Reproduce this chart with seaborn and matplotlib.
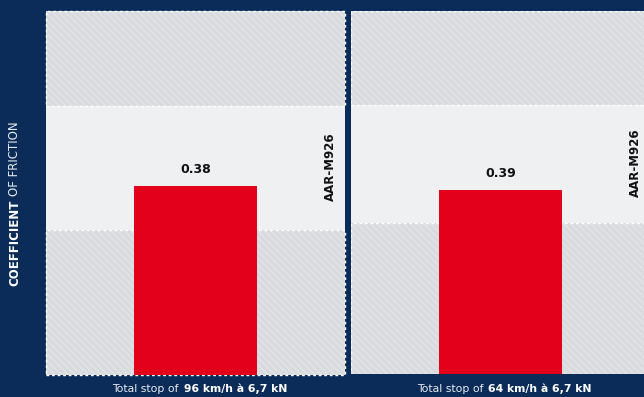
import matplotlib
matplotlib.use("Agg")
import matplotlib.pyplot as plt
import matplotlib.patches as mpatches
import seaborn as sns
import pandas as pd

# ---- data ----
conditions = ["96 km/h à 6,7 kN", "64 km/h à 6,7 kN"]
values = [0.38, 0.39]
spec_low = [0.29, 0.32]
spec_high = [0.54, 0.57]
y_max = [0.73, 0.77]
spec_label = "AAR-M926"

sns.set_theme(style="white")
plt.rcParams["font.family"] = ["DejaVu Sans"]
plt.rcParams["hatch.linewidth"] = 1.2

NAVY = "#0b2c58"
RED = "#e2001a"
GRAY = "#d9dadd"
LIGHT = "#eff0f2"
HATCH = "#e2e3e6"

W, H = 644, 397
fig = plt.figure(figsize=(W / 100, H / 100), dpi=100)
fig.patch.set_facecolor(NAVY)

panels = [(46, 11, 299, 364), (351, 11, 299, 363)]
centers = [196, 500.5]

for i, (px, py, pw, ph) in enumerate(panels):
    ax = fig.add_axes([px / W, (H - py - ph) / H, pw / W, ph / H])
    ax.set_facecolor(LIGHT)
    df = pd.DataFrame({"cond": [conditions[i]], "cof": [values[i]]})
    top = y_max[i]
    # hatched gray zones outside the spec band
    for (y0, y1) in [(0, spec_low[i]), (spec_high[i], top)]:
        ax.add_patch(mpatches.Rectangle((-0.5, y0), 1.0, y1 - y0, facecolor=GRAY,
                                        edgecolor=HATCH, hatch="\\\\\\\\\\", linewidth=0, zorder=0.5))
        ax.add_patch(mpatches.Rectangle((-0.5, y0), 1.0, y1 - y0, facecolor="none",
                                        edgecolor="white", linestyle=(0, (2, 2)), linewidth=1.0,
                                        zorder=0.6, clip_on=(i != 0)))
    sns.barplot(data=df, x="cond", y="cof", color=RED, saturation=1, width=0.41,
                ax=ax, zorder=2)
    for p in ax.patches:
        fc = p.get_facecolor()
        if fc[0] > 0.8 and fc[1] < 0.2:
            p.set_edgecolor("none")
    ax.set_xlim(-0.5, 0.5)
    ax.set_ylim(0, top)
    ax.set_xticks([])
    ax.set_yticks([])
    ax.set_xlabel("")
    ax.set_ylabel("")
    for s in ax.spines.values():
        s.set_visible(False)
    # value label
    ax.annotate(f"{values[i]:.2f}", xy=(0, values[i]), xytext=(0, 7), textcoords="offset points",
                ha="center", va="bottom", fontsize=9, fontweight="bold", color="#111111")
    # spec label
    ax.text(1 - 15 / pw, (spec_low[i] + spec_high[i]) / 2 / top + 0.005, spec_label,
            transform=ax.transAxes, rotation=90, ha="center", va="center",
            fontsize=8.5, fontweight="bold", color="#111111")
    # x caption
    cx = centers[i]
    fig.text(cx / W - 17 / W, (H - 389) / H, "Total stop of", ha="right", va="center",
             fontsize=7.8, color="#e8ebf0")
    fig.text(cx / W - 12 / W, (H - 389) / H, conditions[i], ha="left", va="center",
             fontsize=7.8, fontweight="bold", color="white")

# y axis title
fig.text(15 / W, (H - 286) / H, "COEFFICIENT", rotation=90, ha="center", va="bottom",
         fontsize=8.5, fontweight="bold", color="white")
fig.text(15 / W, (H - 196) / H, "OF FRICTION", rotation=90, ha="center", va="bottom",
         fontsize=8.5, color="#e8ebf0")

fig.savefig("out.png", dpi=100, facecolor=NAVY)
